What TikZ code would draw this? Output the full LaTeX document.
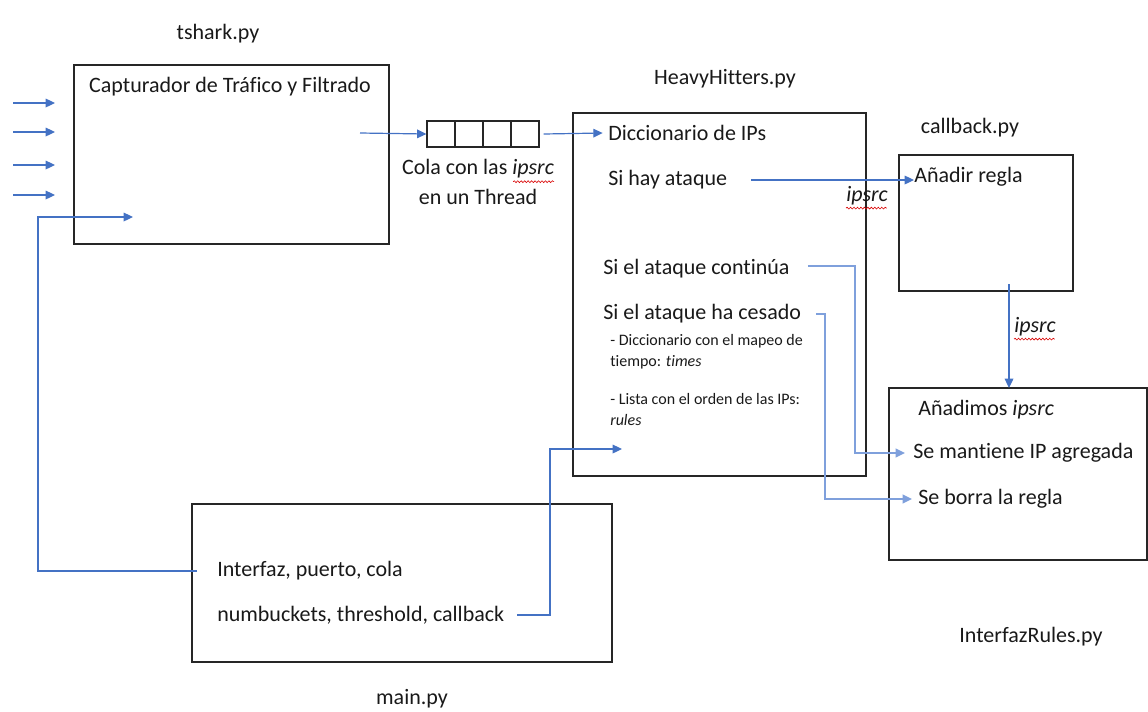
\documentclass[tikz,border=0pt]{standalone}
\usepackage{fontspec}
\setmainfont[Ligatures={NoCommon}]{Carlito}
\usetikzlibrary{arrows.meta,decorations.pathmorphing}
\definecolor{ablue}{HTML}{4472C4}
\definecolor{lblue}{HTML}{7FA0DC}
\begin{document}
\begin{tikzpicture}[x=0.75pt,y=-0.75pt,
  box/.style={draw=black!85,line width=0.9pt,inner sep=0pt},
  cell/.style={draw=black!85,line width=0.9pt,minimum width=21pt,minimum height=19.5pt,inner sep=0pt},
  txt/.style={font=\fontsize{16.5}{19}\selectfont,inner sep=0pt,anchor=west,text=black!90},
  lbl/.style={font=\fontsize{16.5}{19}\selectfont,inner sep=0pt,text=black!90},
  small/.style={font=\fontsize{12}{14}\selectfont,inner sep=0pt,anchor=west,text=black!90},
  arr/.style={draw=ablue,line width=0.9pt,-{Triangle[length=7pt,width=6.5pt]}},
  larr/.style={draw=lblue,line width=1.2pt,-{Triangle[length=7pt,width=6.5pt]}},
  wavy/.style={draw=red!85!black,line width=0.45pt,decorate,decoration={snake,segment length=2.6pt,amplitude=0.7pt}}]
\useasboundingbox (0,0) rectangle (1148,711);

% boxes
\node[box,minimum width=236.25pt,minimum height=134.25pt] (tshark) at (231.5,154.5) {};
\node[box,minimum width=219.75pt,minimum height=272.25pt] (hh) at (719.5,294.5) {};
\node[box,minimum width=130.5pt,minimum height=102pt] (cb) at (986,223) {};
\node[box,minimum width=193.5pt,minimum height=129pt] (ir) at (1018,474) {};
\node[box,minimum width=315pt,minimum height=118.5pt] (mainb) at (402,583) {};

% queue
\node[cell] (q1) at (441,134) {};
\node[cell] (q2) at (469,134) {};
\node[cell] (q3) at (497,134) {};
\node[cell] (q4) at (525,134) {};

% file labels
\node[lbl] (ltshark) at (218,34) {tshark.py};
\node[lbl] (lhh) at (725,79) {HeavyHitters.py};
\node[lbl] (lcb) at (970,128) {callback.py};
\node[lbl] (lir) at (1031,637) {InterfazRules.py};
\node[lbl] (lmain) at (412,699) {main.py};

% texts
\node[lbl] (captit) at (230,87) {Capturador de Tráfico y Filtrado};
\node[lbl] (cola1) at (478,169) {Cola con las \textit{ipsrc}};
\node[lbl] (cola2) at (478,197) {en un Thread};
\node[txt] (dicc) at (608,133) {Diccionario de IPs};
\node[txt] (sihay) at (608,180) {Si hay ataque};
\node[txt] (cont) at (603,269) {Si el ataque continúa};
\node[txt] (ces) at (603,314) {Si el ataque ha cesado};
\node[small] (s1) at (610,341) {- Diccionario con el mapeo de};
\node[small] (s2) at (610,362) {tiempo: \textit{times}};
\node[small] (s3) at (610,399) {- Lista con el orden de las IPs:};
\node[small] (s4) at (610,420) {\textit{rules}};
\node[txt] (anadir) at (914,177) {Añadir regla};
\node[lbl] (ip1) at (867,196) {\textit{ipsrc}};
\node[lbl] (ip2) at (1035,327) {\textit{ipsrc}};
\node[txt] (anadimos) at (918,410) {Añadimos \textit{ipsrc}};
\node[txt] (mant) at (913,453) {Se mantiene IP agregada};
\node[txt] (borra) at (918,499) {Se borra la regla};
\node[txt] (interfaz) at (217,571) {Interfaz, puerto, cola};
\node[txt] (numb) at (217,615) {numbuckets, threshold, callback};

% spell-check underlines
\draw[wavy] (cola1.south east) ++(-41,3) -- ++(41,0);
\draw[wavy] (ip1.south west) ++(0,2.5) -- ++(41,0);
\draw[wavy] (ip2.south west) ++(0,2.5) -- ++(41,0);

% input arrows
\foreach \y/\n in {103/a,132/b,165/c,195/d}{
  \coordinate (in\n s) at (13,\y);
  \coordinate (in\n e) at (55,\y);
  \draw[arr] (in\n s) -- (in\n e);
}

% free ends
\coordinate (tsout) at (360,133);
\coordinate (tsin) at (133,217);
\coordinate (hhin) at (622,449);
\coordinate (cbout) at (1009,284);
\coordinate (irtop) at (1009,388);
\coordinate (vleft) at (38,0);
\coordinate (vmain) at (550,0);
\coordinate (vc) at (855,0);
\coordinate (vb) at (825,0);
\coordinate (hs) at (751,180);

\draw[arr] (tsout) -- (q1.west);
\draw[arr] (q4.east) ++(4,0) coordinate (qout) (qout) -- ([xshift=-4pt]dicc.west);
\draw[arr] (hs) -- (anadir.west |- hs);
\draw[arr] (cbout) -- (irtop);
\draw[arr] (interfaz.west) ++(-20,0) coordinate (is) (is) -- (is -| vleft) |- (tsin);
\draw[arr] (numb.east) ++(13,0) coordinate (ns) (ns) -- (ns -| vmain) |- (hhin);
\draw[larr] (cont.east) ++(18,-3) coordinate (cs) (cs) -- (cs -| vc) |- ([xshift=-6pt]mant.west);
\draw[larr] (ces.east) ++(15,0) coordinate (es) (es) -- (es -| vb) |- ([xshift=-4.5pt]borra.west);
\end{tikzpicture}
\end{document}
